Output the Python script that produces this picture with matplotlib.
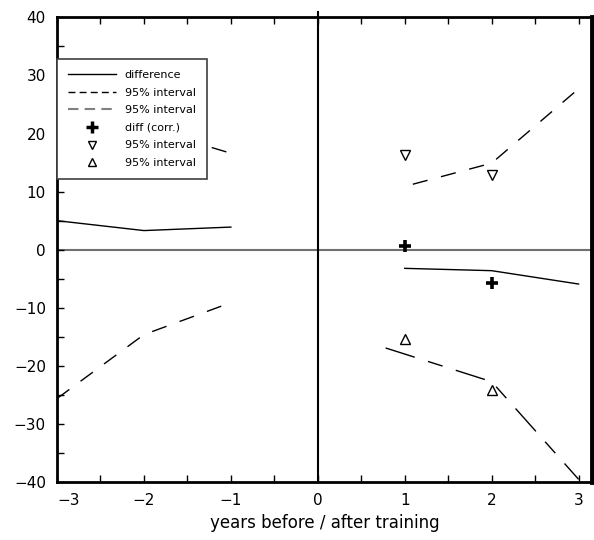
import matplotlib.pyplot as plt
from matplotlib.lines import Line2D
from matplotlib.ticker import MultipleLocator

# years before training
x_before = [-3, -2, -1]
diff_before = [5.0, 3.3, 3.9]
upper_before = [31.0, 21.1, 16.6]
lower_before = [-25.6, -14.6, -9.1]

# years after training
x_after = [1, 2, 3]
diff_after = [-3.2, -3.6, -5.9]
upper_after = [10.9, 14.9, 27.7]
x_lower_after = [0.78, 2, 3]
lower_after = [-16.9, -22.7, -39.5]

# corrected difference and its interval
x_corr = [1, 2]
diff_corr = [0.6, -5.8]
corr_upper = [16.3, 12.9]
corr_lower = [-15.3, -24.1]

xticks = [-3, -2, -1, 0, 1, 2, 3]
yticks = [-40, -30, -20, -10, 0, 10, 20, 30, 40]

dash = (0, (11, 10))

fig = plt.figure(figsize=(5.94, 5.40), dpi=100)
ax = fig.add_axes([0.096, 0.107, 0.9, 0.861])

ax.axhline(0, color='#707070', lw=1.5, zorder=1)
ax.axvline(0, color='black', lw=1.5, ymax=1.012, clip_on=False, zorder=1)

ax.plot(x_before, diff_before, color='black', lw=1)
ax.plot(x_after, diff_after, color='black', lw=1)
ax.plot(x_before, upper_before, color='black', lw=1, linestyle=dash)
ax.plot(x_before, lower_before, color='black', lw=1, linestyle=dash)
ax.plot(x_after, upper_after, color='black', lw=1, linestyle=(15, (11, 10)))
ax.plot(x_lower_after, lower_after, color='black', lw=1, linestyle=(0, (22, 10, 11, 10)))

ax.plot(x_corr, diff_corr, linestyle='none', marker='+', ms=9, mew=2.6, color='black', zorder=5)
ax.plot(x_corr, corr_upper, linestyle='none', marker='v', ms=7, mfc='none', mec='black', mew=1, zorder=5)
ax.plot(x_corr, corr_lower, linestyle='none', marker='^', ms=7, mfc='none', mec='black', mew=1, zorder=5)

ax.set_xlim(-3, 3.15)
ax.set_ylim(-40, 40)
ax.set_xticks(xticks)
ax.set_xticklabels(['\u22123', '\u22122', '\u22121', '0', '1', '2', '3'])
ax.set_yticks(yticks)
ax.set_yticklabels([str(v).replace('-', '\u2212') for v in yticks])
ax.xaxis.set_minor_locator(MultipleLocator(0.5))
ax.yaxis.set_minor_locator(MultipleLocator(5))
ax.tick_params(axis='both', which='both', direction='in', length=5, width=1,
               top=True, right=False, labelsize=11, pad=8)
ax.get_xticklabels()[0].set_horizontalalignment('left')

for side in ['left', 'top', 'bottom']:
    ax.spines[side].set_linewidth(2)
ax.spines['right'].set_linewidth(3.5)

ax.set_xlabel('years before / after training', fontsize=12, labelpad=4)

handles = [
    Line2D([], [], color='black', lw=1),
    Line2D([], [], color='black', lw=1, linestyle=(0, (5, 3))),
    Line2D([], [], color='#808080', lw=1.5, linestyle=(0, (5, 3))),
    Line2D([], [], linestyle='none', marker='+', ms=8, mew=2.5, color='black'),
    Line2D([], [], linestyle='none', marker='v', ms=6, mfc='none', mec='black'),
    Line2D([], [], linestyle='none', marker='^', ms=6, mfc='none', mec='black'),
]
labels = ['difference', '95% interval', '95% interval', 'diff (corr.)',
          '95% interval', '95% interval']
leg = ax.legend(handles, labels, loc='upper left', bbox_to_anchor=(0, 0.91),
                borderaxespad=0, fontsize=8, handlelength=4.3, labelspacing=0.68,
                fancybox=False, framealpha=1, edgecolor='#404040',
                borderpad=1.0, handletextpad=0.8)
leg.get_frame().set_linewidth(1.2)

fig.savefig('out.png', dpi=100)
